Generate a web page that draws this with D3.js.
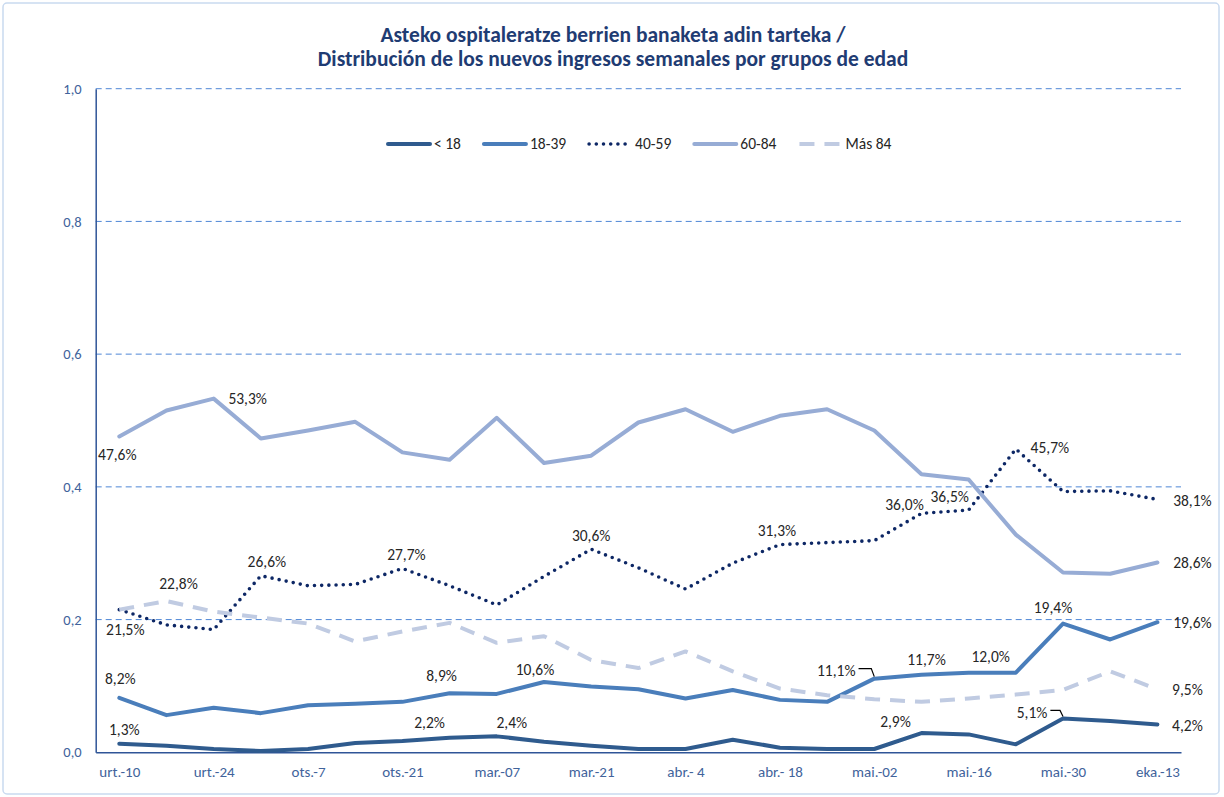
<!DOCTYPE html>
<html>
<head>
<meta charset="utf-8">
<script src="https://cdn.jsdelivr.net/npm/d3@7"></script>
<style>
  body { margin: 0; background: #fff; }
  svg { display: block; font-family: Carlito, Calibri, Lato, sans-serif; }
</style>
</head>
<body>
<svg width="1224" height="797"></svg>
<script>
const weeks = ['urt.-10', 'urt.-17', 'urt.-24', 'urt.-31', 'ots.-7', 'ots.-14', 'ots.-21', 'ots.-28',
  'mar.-07', 'mar.-14', 'mar.-21', 'mar.-28', 'abr.- 4', 'abr.- 11', 'abr.- 18', 'abr.- 25',
  'mai.-02', 'mai.-09', 'mai.-16', 'mai.-23', 'mai.-30', 'eka.-06', 'eka.-13'];
const tickWeeks = weeks.filter((d, i) => i % 2 === 0);

const under18 = [0.013, 0.010, 0.005, 0.002, 0.005, 0.014, 0.017, 0.022, 0.024, 0.016, 0.010, 0.005,
  0.005, 0.019, 0.007, 0.005, 0.005, 0.029, 0.027, 0.012, 0.051, 0.047, 0.042];
const age18to39 = [0.082, 0.056, 0.067, 0.059, 0.071, 0.073, 0.076, 0.089, 0.088, 0.106, 0.099, 0.095,
  0.081, 0.094, 0.079, 0.076, 0.111, 0.117, 0.120, 0.120, 0.194, 0.170, 0.196];
const age40to59 = [0.215, 0.192, 0.185, 0.266, 0.251, 0.253, 0.277, 0.251, 0.222, 0.265, 0.306, 0.278,
  0.246, 0.285, 0.313, 0.316, 0.319, 0.360, 0.365, 0.457, 0.393, 0.394, 0.381];
const age60to84 = [0.476, 0.515, 0.533, 0.473, 0.485, 0.498, 0.452, 0.441, 0.504, 0.436, 0.447, 0.497,
  0.517, 0.483, 0.507, 0.517, 0.485, 0.419, 0.411, 0.328, 0.271, 0.269, 0.286];
const over84 = [0.215, 0.228, 0.212, 0.203, 0.194, 0.167, 0.182, 0.195, 0.165, 0.175, 0.139, 0.127,
  0.152, 0.122, 0.096, 0.086, 0.080, 0.076, 0.081, 0.087, 0.094, 0.122, 0.095];

const seriesNames = ['< 18', '18-39', '40-59', '60-84', 'Más 84'];
const seriesValues = [under18, age18to39, age40to59, age60to84, over84];
const yTicks = [0, 0.2, 0.4, 0.6, 0.8, 1.0];

const titleLines = ['Asteko ospitaleratze berrien banaketa adin tarteka /',
  'Distribución de los nuevos ingresos semanales por grupos de edad'];

// line look per series
const styles = [
  { color: '#2f5b8e', width: 4, dash: null, cap: 'round' },
  { color: '#4a7ebb', width: 4, dash: null, cap: 'round' },
  { color: '#0d2765', width: 3.6, dash: '0 7.2', cap: 'round' },
  { color: '#97acd5', width: 4, dash: null, cap: 'round' },
  { color: '#c0cbe2', width: 4, dash: '15 10', cap: 'butt' }
];

// which points carry a data label, and where the label sits relative to the point
const labelPlacing = [
  { s: 3, i: 0, dx: -2, dy: 18 }, { s: 3, i: 2, dx: 34, dy: 0 }, { s: 3, i: 22, dx: 35, dy: 0 },
  { s: 2, i: 0, dx: 6, dy: 20 }, { s: 2, i: 3, dx: 6, dy: -14 }, { s: 2, i: 6, dx: 4, dy: -14 },
  { s: 2, i: 10, dx: 0, dy: -14 }, { s: 2, i: 14, dx: -3, dy: -14 }, { s: 2, i: 17, dx: -17, dy: -9 },
  { s: 2, i: 18, dx: -19, dy: -14 }, { s: 2, i: 19, dx: 34, dy: -1 }, { s: 2, i: 22, dx: 35, dy: 1 },
  { s: 4, i: 1, dx: 12, dy: -17 }, { s: 4, i: 22, dx: 30, dy: 0 },
  { s: 1, i: 0, dx: 1, dy: -19 }, { s: 1, i: 7, dx: -8, dy: -18 }, { s: 1, i: 9, dx: -9, dy: -12 },
  { s: 1, i: 16, dx: -38, dy: -8, lead: true }, { s: 1, i: 17, dx: 5, dy: -15 },
  { s: 1, i: 18, dx: 22, dy: -16 }, { s: 1, i: 20, dx: -10, dy: -16 }, { s: 1, i: 22, dx: 35, dy: 0 },
  { s: 0, i: 0, dx: 5, dy: -14 }, { s: 0, i: 7, dx: -20, dy: -15 }, { s: 0, i: 8, dx: 15, dy: -14 },
  { s: 0, i: 17, dx: -26, dy: -11 }, { s: 0, i: 20, dx: -31, dy: -6, lead: true }, { s: 0, i: 22, dx: 30, dy: 1 }
];

const locale = d3.formatLocale({ decimal: ',', thousands: '.', grouping: [3], currency: ['', '€'] });
const pct = locale.format('.1%');
const tickFmt = locale.format('.1f');

const svg = d3.select('svg');
const plotLeft = 95.7, plotRight = 1181, plotTop = 88.7, plotBottom = 752.3;

svg.append('rect')
  .attr('x', 3).attr('y', 3).attr('width', 1216).attr('height', 791)
  .attr('rx', 4)
  .attr('fill', '#fff')
  .attr('stroke', '#c9daf0')
  .attr('stroke-width', 1.5);

const x = d3.scalePoint().domain(weeks).range([plotLeft, plotRight]).padding(0.5);
const y = d3.scaleLinear().domain([0, 1]).range([plotBottom, plotTop]);

// title
svg.append('g').selectAll('text')
  .data(titleLines)
  .enter()
  .append('text')
  .attr('x', 613)
  .attr('y', (d, i) => 42 + i * 24)
  .attr('text-anchor', 'middle')
  .attr('fill', '#1f3c73')
  .attr('font-size', 21.5)
  .attr('font-weight', 'bold')
  .text(d => d);

// gridlines
svg.append('g').selectAll('line')
  .data(yTicks.filter(d => d > 0))
  .enter()
  .append('line')
  .attr('x1', plotLeft).attr('x2', plotRight)
  .attr('y1', d => y(d)).attr('y2', d => y(d))
  .attr('stroke', '#4f87d6')
  .attr('stroke-width', 1)
  .attr('stroke-dasharray', '6 4');

// y axis
const yAxis = svg.append('g')
  .attr('transform', `translate(${plotLeft},0)`)
  .call(d3.axisLeft(y).tickValues(yTicks).tickFormat(tickFmt).tickSize(0).tickPadding(14));
yAxis.select('.domain').attr('stroke', '#2f5597').attr('stroke-width', 1.5);
yAxis.selectAll('text').attr('fill', '#41639b').attr('font-size', 14.5).attr('font-family', 'Carlito, Calibri, Lato, sans-serif');

// x axis
const xAxis = svg.append('g')
  .attr('transform', `translate(0,${plotBottom})`)
  .call(d3.axisBottom(x).tickValues(tickWeeks).tickSize(0).tickPadding(14).tickSizeOuter(0));
xAxis.select('.domain').attr('stroke', '#2f5597').attr('stroke-width', 1.5);
xAxis.selectAll('text').attr('fill', '#41639b').attr('font-size', 15).attr('font-family', 'Carlito, Calibri, Lato, sans-serif');

// series lines
const line = d3.line()
  .x((d, i) => x(weeks[i]))
  .y(d => y(d));

svg.append('g').selectAll('path')
  .data(seriesValues)
  .enter()
  .append('path')
  .attr('d', line)
  .attr('fill', 'none')
  .attr('stroke', (d, i) => styles[i].color)
  .attr('stroke-width', (d, i) => styles[i].width)
  .attr('stroke-dasharray', (d, i) => styles[i].dash)
  .attr('stroke-linecap', (d, i) => styles[i].cap)
  .attr('stroke-linejoin', 'round');

// data labels
const labelG = svg.append('g');
labelPlacing.forEach(p => {
  const v = seriesValues[p.s][p.i];
  const px = x(weeks[p.i]), py = y(v);
  const t = labelG.append('text')
    .attr('x', px + p.dx)
    .attr('y', py + p.dy)
    .attr('dy', '0.35em')
    .attr('text-anchor', 'middle')
    .attr('fill', '#262626')
    .attr('font-size', 15.5)
    .text(pct(v));
  if (p.lead) {
    const w = t.node().getComputedTextLength();
    const ly = py + p.dy - 2;
    labelG.append('path')
      .attr('d', `M${px + p.dx + w / 2 + 3},${ly}H${px - 3}L${px},${py - 2}`)
      .attr('fill', 'none')
      .attr('stroke', '#000')
      .attr('stroke-width', 1.2);
  }
});

// legend
const legend = svg.append('g').attr('transform', 'translate(386,144)');
let lx = 0;
seriesNames.forEach((name, i) => {
  legend.append('line')
    .attr('x1', lx + 2).attr('x2', lx + 44)
    .attr('y1', 0).attr('y2', 0)
    .attr('stroke', styles[i].color)
    .attr('stroke-width', styles[i].width)
    .attr('stroke-dasharray', styles[i].dash)
    .attr('stroke-linecap', styles[i].cap);
  const t = legend.append('text')
    .attr('x', lx + 48)
    .attr('y', 0)
    .attr('dy', '0.35em')
    .attr('fill', '#262626')
    .attr('font-size', 15.5)
    .text(name);
  lx += 48 + t.node().getComputedTextLength() + 21;
});
</script>
</body>
</html>
